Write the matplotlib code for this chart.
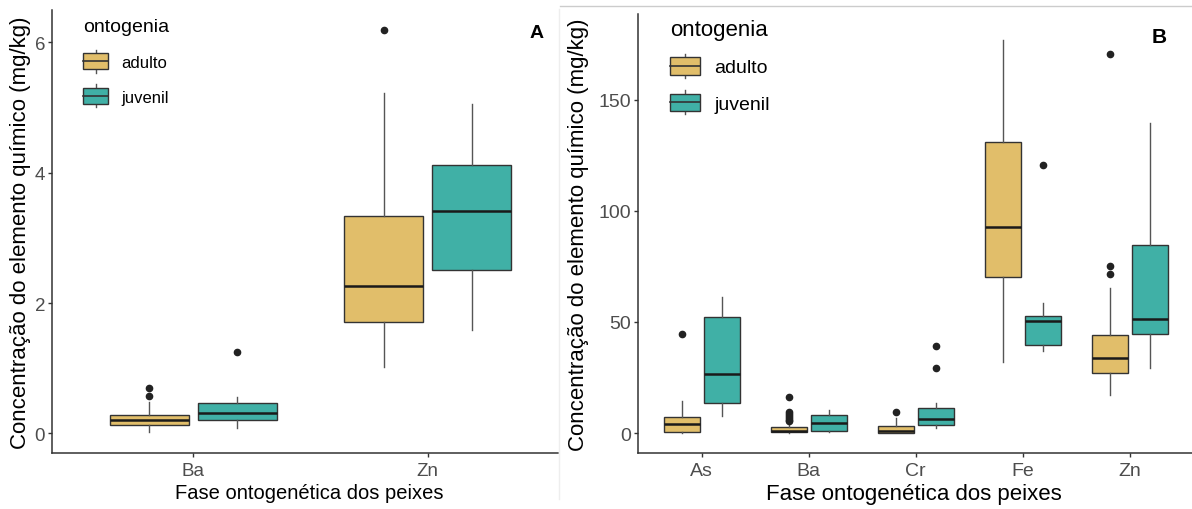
import matplotlib
matplotlib.use("Agg")
import matplotlib.pyplot as plt
from matplotlib.legend_handler import HandlerBase
from matplotlib.patches import Patch, Rectangle
from matplotlib.lines import Line2D
import numpy as np

plt.rcParams['font.family'] = ['Liberation Sans', 'DejaVu Sans']

# painel A
elem_a = ['Ba', 'Zn']
a_adulto_q1 = [0.135, 1.71]
a_adulto_med = [0.21, 2.26]
a_adulto_q3 = [0.28, 3.34]
a_adulto_lo = [0.03, 1.02]
a_adulto_hi = [0.49, 5.23]
a_adulto_out = [[0.57, 0.69], [6.19]]
a_juvenil_q1 = [0.20, 2.50]
a_juvenil_med = [0.31, 3.41]
a_juvenil_q3 = [0.46, 4.12]
a_juvenil_lo = [0.08, 1.58]
a_juvenil_hi = [0.56, 5.06]
a_juvenil_out = [[1.25], []]

# painel B
elem_b = ['As', 'Ba', 'Cr', 'Fe', 'Zn']
b_adulto_q1 = [0.6, 0.6, 0.1, 70.4, 27.0]
b_adulto_med = [4.2, 1.0, 0.9, 92.9, 33.9]
b_adulto_q3 = [7.1, 2.6, 3.0, 130.9, 44.1]
b_adulto_lo = [0.0, 0.2, 0.0, 32.1, 17.0]
b_adulto_hi = [14.5, 3.4, 6.6, 177.2, 65.3]
b_adulto_out = [[44.6], [5.2, 6.0, 6.8, 7.6, 8.4, 9.3, 16.0], [9.3], [], [71.8, 75.2, 170.6]]
b_juvenil_q1 = [13.4, 1.0, 3.8, 39.8, 44.6]
b_juvenil_med = [26.4, 4.4, 6.3, 50.5, 51.5]
b_juvenil_q3 = [52.1, 8.1, 11.4, 52.6, 84.7]
b_juvenil_lo = [7.5, 0.4, 2.3, 36.9, 29.3]
b_juvenil_hi = [61.1, 10.5, 13.7, 58.6, 139.5]
b_juvenil_out = [[], [], [29.3, 39.3], [120.6], []]

cor_adulto = '#E1BE6A'
cor_juvenil = '#40B0A6'
W, H = 1192, 510


def stats(q1, med, q3, lo, hi, out):
    return [dict(q1=a, med=m, q3=b, whislo=l, whishi=h, fliers=f)
            for a, m, b, l, h, f in zip(q1, med, q3, lo, hi, out)]


class BoxKey(HandlerBase):
    # chave da legenda no estilo ggplot (mini boxplot)
    def create_artists(self, legend, orig, xd, yd, w, h, fontsize, trans):
        x0, y0 = -xd, -yd
        r = Rectangle((x0, y0), w, h, facecolor=orig.get_facecolor(),
                      edgecolor='#333333', lw=1, transform=trans)
        m = Line2D([x0, x0 + w], [y0 + h / 2] * 2, color='#333333', lw=1.2, transform=trans)
        t = Line2D([x0 + w / 2] * 2, [y0 + h, y0 + h * 1.2], color='#555555', lw=1, transform=trans)
        b = Line2D([x0 + w / 2] * 2, [y0 - h * 0.2, y0], color='#555555', lw=1, transform=trans)
        return [t, b, r, m]


def panel(ax, cats, adulto, juvenil, fs_tick, fs_lab):
    x = np.arange(len(cats))
    for st, off, col in ((adulto, -0.1875, cor_adulto), (juvenil, 0.1875, cor_juvenil)):
        ax.bxp(st, positions=x + off, widths=0.3375, showcaps=False, patch_artist=True,
               boxprops=dict(facecolor=col, edgecolor='#333333', lw=1),
               medianprops=dict(color='#1a1a1a', lw=1.8),
               whiskerprops=dict(color='#555555', lw=1),
               flierprops=dict(marker='o', markersize=4.5, markerfacecolor='#222222',
                               markeredgecolor='#222222'))
    ax.set_xticks(x, cats)
    ax.spines['top'].set_visible(False)
    ax.spines['right'].set_visible(False)
    for s in ('left', 'bottom'):
        ax.spines[s].set_color('#333333')
        ax.spines[s].set_linewidth(1.1)
    ax.tick_params(labelsize=fs_tick, labelcolor='#4D4D4D', color='#333333', length=3, width=1, pad=2)
    ax.tick_params(axis='x', pad=3)
    ax.set_xlabel('Fase ontogenética dos peixes', fontsize=fs_lab)
    ax.set_ylabel('Concentração do elemento químico (mg/kg)', fontsize=16)


fig = plt.figure(figsize=(W / 100, H / 100), dpi=100)

ax_a = fig.add_axes([52 / W, 1 - 454.3 / H, (558 - 52) / W, (454.3 - 10.7) / H])
panel(ax_a, elem_a,
      stats(a_adulto_q1, a_adulto_med, a_adulto_q3, a_adulto_lo, a_adulto_hi, a_adulto_out),
      stats(a_juvenil_q1, a_juvenil_med, a_juvenil_q3, a_juvenil_lo, a_juvenil_hi, a_juvenil_out),
      13.5, 14.5)
ax_a.set_xlim(-0.603, 1.556)
ax_a.set_ylim(-0.304, 6.50)
ax_a.set_yticks([0, 2, 4, 6])
ax_a.yaxis.set_label_coords(-0.041, 0.5)
ax_a.xaxis.set_label_coords(0.508, -0.068)

ax_b = fig.add_axes([637.7 / W, 1 - 454.3 / H, (1192 - 637.7) / W, (454.3 - 15) / H])
panel(ax_b, elem_b,
      stats(b_adulto_q1, b_adulto_med, b_adulto_q3, b_adulto_lo, b_adulto_hi, b_adulto_out),
      stats(b_juvenil_q1, b_juvenil_med, b_juvenil_q3, b_juvenil_lo, b_juvenil_hi, b_juvenil_out),
      14, 16)
ax_b.set_xlim(-0.598, 4.582)
ax_b.set_ylim(-9.14, 188.7)
ax_b.set_yticks([0, 50, 100, 150])
ax_b.yaxis.set_label_coords(-0.088, 0.5)
ax_b.xaxis.set_label_coords(0.499, -0.068)

handles = [Patch(facecolor=cor_adulto), Patch(facecolor=cor_juvenil)]
fig.legend(handles, ['adulto', 'juvenil'], title='ontogenia', loc='upper left',
           bbox_to_anchor=(83 / W, 1 - 19 / H), frameon=False, fontsize=12,
           title_fontsize=14, alignment='left', handler_map={Patch: BoxKey()},
           handlelength=1.5, handleheight=1.15, labelspacing=1.07, handletextpad=0.8,
           borderpad=0, borderaxespad=0)
fig.legend(handles, ['adulto', 'juvenil'], title='ontogenia', loc='upper left',
           bbox_to_anchor=(670 / W, 1 - 20 / H), frameon=False, fontsize=14,
           title_fontsize=16, alignment='left', handler_map={Patch: BoxKey()},
           handlelength=1.55, handleheight=1.0, labelspacing=0.88, handletextpad=0.73,
           borderpad=0, borderaxespad=0)

fig.text(537 / W, 1 - 33 / H, 'A', fontsize=14, fontweight='bold', ha='center', va='center')
fig.text(1158.7 / W, 1 - 37.3 / H, 'B', fontsize=15, fontweight='bold', ha='center', va='center')

# moldura clara das imagens originais
fig.add_artist(Line2D([560 / W, 1], [1 - 7 / H] * 2, color='#cccccc', lw=1))
fig.add_artist(Line2D([559 / W] * 2, [0.02, 0.98], color='#eeeeee', lw=1))

fig.savefig('out.png', dpi=100)
